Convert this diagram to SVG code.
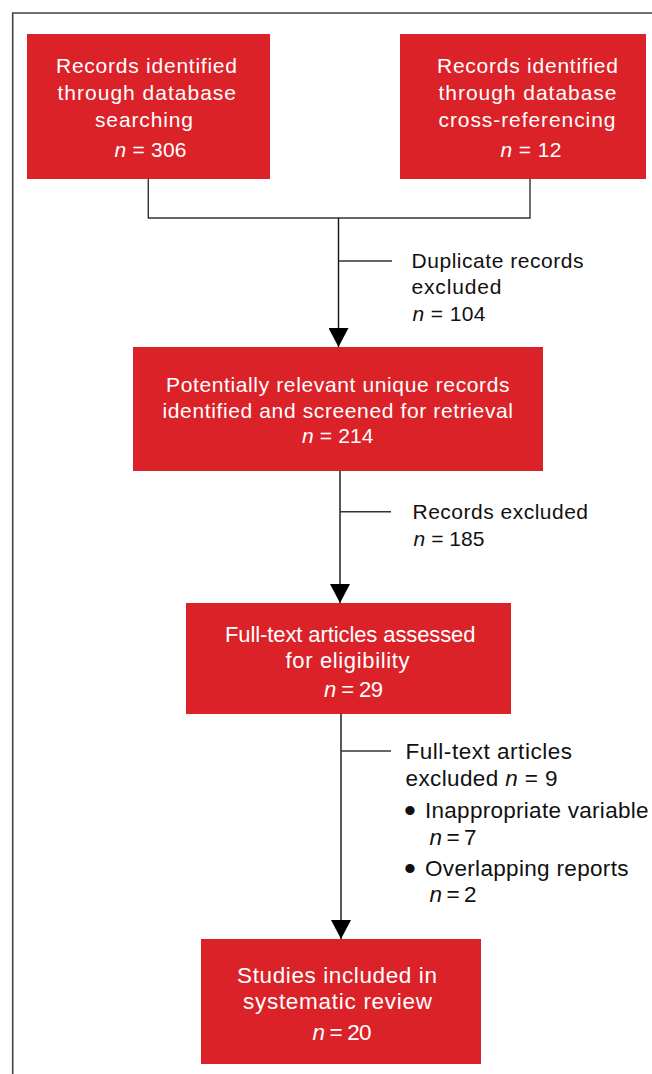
<svg xmlns="http://www.w3.org/2000/svg" width="652" height="1074" viewBox="0 0 652 1074">
<defs>
<marker id="arr" markerUnits="userSpaceOnUse" markerWidth="20" markerHeight="20" refX="19" refY="10" orient="auto" viewBox="0 0 20 20">
<path d="M0,0 L19,10 L0,20 Z" fill="#000"/>
</marker>
</defs>
<style>
.box{fill:#DC2229}
.bt{font-family:"Liberation Sans",Arial,sans-serif;font-size:21px;fill:#fff}
.lt{font-family:"Liberation Sans",Arial,sans-serif;font-size:21px;fill:#111}
.big{font-size:22.5px}
.mid{font-size:22px}
.bul{font-size:34px}
.ln{stroke:#333;stroke-width:1.4;fill:none}
.arrowline{stroke:#111;stroke-width:1.4;fill:none}
.it{font-style:italic}
.frame{stroke:#444;stroke-width:1.6;fill:none}
</style>
<g id="frame"><path class="frame" d="M652,13 H12.7 V1074"/></g>
<g id="connectors">
<path class="ln" d="M148.3,179 V218 H530 V179"/>
<path class="arrowline" d="M338.5,218 V347" marker-end="url(#arr)"/>
<path class="ln" d="M338.5,261 H392"/>
<path class="arrowline" d="M340,471 V603" marker-end="url(#arr)"/>
<path class="ln" d="M340,511.7 H391"/>
<path class="arrowline" d="M341,714 V939" marker-end="url(#arr)"/>
<path class="ln" d="M341,751 H391"/>
</g>
<g id="node1">
<rect class="box" x="27" y="34" width="243" height="145"/>
<text class="bt" x="56" y="73" textLength="181">Records identified</text>
<text class="bt" x="57.5" y="100" textLength="178.5">through database</text>
<text class="bt" x="95" y="127" textLength="98">searching</text>
<text class="bt" x="114.5" y="157" textLength="72"><tspan class="it">n</tspan> = 306</text>
</g>
<g id="node2">
<rect class="box" x="400" y="34" width="246" height="145"/>
<text class="bt" x="437" y="73" textLength="181">Records identified</text>
<text class="bt" x="438.5" y="100" textLength="178">through database</text>
<text class="bt" x="438.5" y="127" textLength="177">cross-referencing</text>
<text class="bt" x="500.5" y="157" textLength="61"><tspan class="it">n</tspan> = 12</text>
</g>
<g id="label1">
<text class="lt" x="411.5" y="268" textLength="172">Duplicate records</text>
<text class="lt" x="411.5" y="294" textLength="90">excluded</text>
<text class="lt" x="412.5" y="321" textLength="73"><tspan class="it">n</tspan> = 104</text>
</g>
<g id="node3">
<rect class="box" x="133" y="347" width="410" height="124"/>
<text class="bt" x="166" y="392" textLength="343.5">Potentially relevant unique records</text>
<text class="bt" x="162.5" y="418" textLength="350.5">identified and screened for retrieval</text>
<text class="bt" x="302" y="443" textLength="71.5"><tspan class="it">n</tspan> = 214</text>
</g>
<g id="label2">
<text class="lt" x="412.5" y="519" textLength="175.5">Records excluded</text>
<text class="lt" x="413.5" y="546" textLength="71"><tspan class="it">n</tspan> = 185</text>
</g>
<g id="node4">
<rect class="box" x="186" y="603" width="325" height="111"/>
<text class="bt mid" x="225" y="642" textLength="250.5">Full-text articles assessed</text>
<text class="bt mid" x="285.5" y="668" textLength="124">for eligibility</text>
<text class="bt mid" x="324" y="697" textLength="59"><tspan class="it">n</tspan> = 29</text>
</g>
<g id="label3">
<text class="lt big" x="405.5" y="759" textLength="166.5">Full-text articles</text>
<text class="lt big" x="405.5" y="786" textLength="152">excluded <tspan class="it">n</tspan> = 9</text>
<text class="lt bul" x="404" y="822">•</text>
<text class="lt big" x="425" y="818" textLength="223.5">Inappropriate variable</text>
<text class="lt big" x="429.5" y="845" textLength="47"><tspan class="it">n</tspan> = 7</text>
<text class="lt bul" x="404" y="880">•</text>
<text class="lt big" x="425" y="876" textLength="203.5">Overlapping reports</text>
<text class="lt big" x="429.5" y="902" textLength="47"><tspan class="it">n</tspan> = 2</text>
</g>
<g id="node5">
<rect class="box" x="201" y="939" width="280" height="125"/>
<text class="bt big" x="237" y="983" textLength="200">Studies included in</text>
<text class="bt big" x="243" y="1009" textLength="189">systematic review</text>
<text class="bt big" x="312.5" y="1040" textLength="59"><tspan class="it">n</tspan> = 20</text>
</g>
</svg>
